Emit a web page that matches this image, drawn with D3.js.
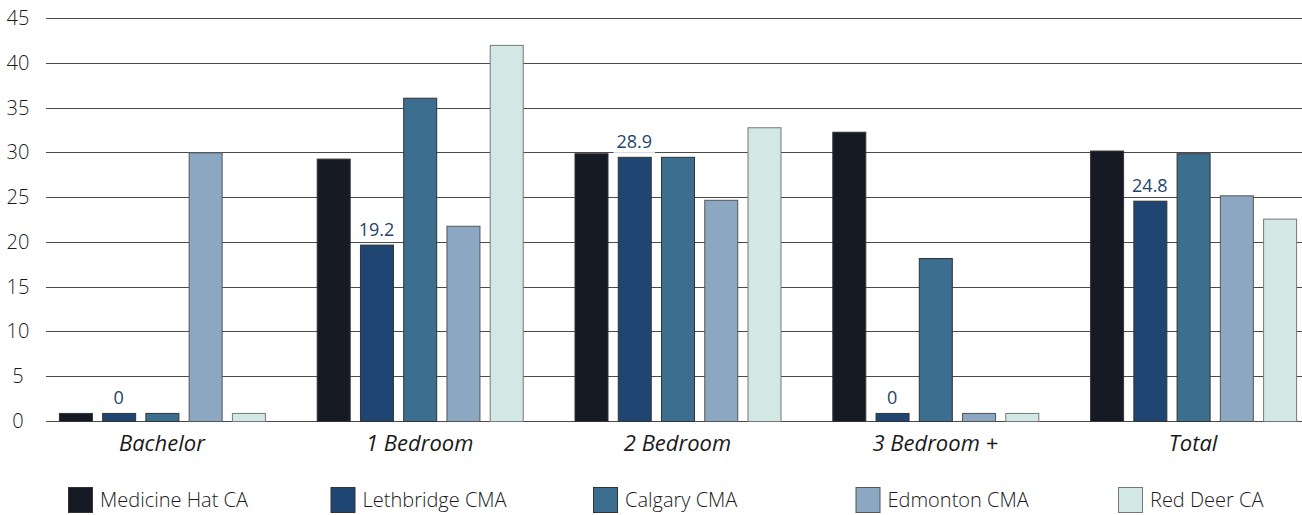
<!DOCTYPE html>
<html>
<head>
<meta charset="utf-8">
<script src="https://cdn.jsdelivr.net/npm/d3@7"></script>
<style>
  body { margin: 0; background: #fff; }
  svg { font-family: "Open Sans", Lato, sans-serif; }
</style>
</head>
<body>
<svg id="chart" width="1302" height="515"></svg>
<script>
var categories = ['Bachelor', '1 Bedroom', '2 Bedroom', '3 Bedroom +', 'Total'];
var seriesNames = ['Medicine Hat CA', 'Lethbridge CMA', 'Calgary CMA', 'Edmonton CMA', 'Red Deer CA'];
var colors = ['#161a24', '#1f4673', '#3b6e8f', '#8ba7c2', '#d1e8e4'];
var strokes = ['#333', '#333', '#333', '#555', '#777'];

// values per series, in category order
var medicineHat = [0.9, 29.3, 29.9, 32.3, 30.2];
var lethbridge  = [0.9, 19.7, 29.5, 0.9, 24.6];
var calgary     = [0.9, 36.1, 29.5, 18.2, 29.9];
var edmonton    = [30.0, 21.8, 24.7, 0.9, 25.2];
var redDeer     = [0.9, 42.0, 32.8, 0.9, 22.6];
var seriesValues = [medicineHat, lethbridge, calgary, edmonton, redDeer];

// labels shown above the Lethbridge bars
var lethbridgeLabels = ['0', '19.2', '28.9', '0', '24.8'];

var yTicks = [0, 5, 10, 15, 20, 25, 30, 35, 40, 45];

var svg = d3.select('#chart');

var y = d3.scaleLinear().domain([0, 45]).range([421, 18]);
var x0 = d3.scaleBand().domain(categories).range([33, 1322]).padding(0);
var groupW = 206;
var x1 = d3.scaleBand().domain(seriesNames).range([0, groupW]).paddingInner(0.237).paddingOuter(0);

// gridlines
svg.append('g')
  .selectAll('line')
  .data(yTicks)
  .enter().append('line')
  .attr('x1', 46).attr('x2', 1302)
  .attr('y1', function(d) { return Math.round(y(d)) + 0.5; })
  .attr('y2', function(d) { return Math.round(y(d)) + 0.5; })
  .attr('stroke', '#4a4a4a')
  .attr('stroke-width', 1.2);

// y labels
svg.append('g')
  .selectAll('text')
  .data(yTicks)
  .enter().append('text')
  .attr('x', 18)
  .attr('y', function(d) { return y(d) + 7; })
  .attr('text-anchor', 'middle')
  .attr('font-size', 20)
  .attr('font-weight', 300)
  .attr('fill', '#1a1a1a')
  .text(function(d) { return d; });

// bars
var groups = svg.append('g')
  .selectAll('g')
  .data(categories)
  .enter().append('g')
  .attr('transform', function(d) {
    return 'translate(' + (x0(d) + (x0.bandwidth() - groupW) / 2) + ',0)';
  });

groups.selectAll('rect')
  .data(function(c, ci) {
    return seriesNames.map(function(s, si) {
      return { series: s, si: si, value: seriesValues[si][ci] };
    });
  })
  .enter().append('rect')
  .attr('x', function(d) { return x1(d.series) + 0.5; })
  .attr('y', function(d) { return y(d.value) + 0.5; })
  .attr('width', x1.bandwidth())
  .attr('height', function(d) { return y(0) - y(d.value); })
  .attr('fill', function(d) { return colors[d.si]; })
  .attr('stroke', function(d) { return strokes[d.si]; })
  .attr('stroke-width', 1);

// value labels for Lethbridge
var labelG = groups.append('g')
  .attr('transform', function(c, ci) {
    var cx = x1('Lethbridge CMA') + x1.bandwidth() / 2;
    return 'translate(' + cx + ',' + (y(lethbridge[ci]) - 9) + ')';
  });

labelG.append('rect')
  .attr('fill', '#fff');

labelG.append('text')
  .attr('text-anchor', 'middle')
  .attr('font-size', 18)
  .attr('fill', '#23456c')
  .text(function(c, ci) { return lethbridgeLabels[ci]; });

labelG.each(function() {
  var g = d3.select(this);
  var bb = g.select('text').node().getBBox();
  g.select('rect')
    .attr('x', bb.x - 3).attr('y', bb.y + 3)
    .attr('width', bb.width + 6).attr('height', bb.height - 3);
});

// category labels
svg.append('g')
  .selectAll('text')
  .data(categories)
  .enter().append('text')
  .attr('x', function(d) { return x0(d) + x0.bandwidth() / 2; })
  .attr('y', 451)
  .attr('text-anchor', 'middle')
  .attr('font-size', 22)
  .attr('font-style', 'italic')
  .attr('font-weight', 500)
  .attr('fill', '#1a1a1a')
  .text(function(d) { return d; });

// legend
var legend = svg.append('g')
  .selectAll('g')
  .data(seriesNames)
  .enter().append('g')
  .attr('transform', function(d, i) { return 'translate(' + (68 + i * 262.5) + ',487)'; });

legend.append('rect')
  .attr('x', 0.5).attr('y', 0.5)
  .attr('width', 24).attr('height', 25)
  .attr('fill', function(d, i) { return colors[i]; })
  .attr('stroke', function(d, i) { return strokes[i]; });

legend.append('text')
  .attr('x', 32)
  .attr('y', 20)
  .attr('font-size', 20)
  .attr('font-weight', 300)
  .attr('fill', '#1a1a1a')
  .text(function(d) { return d; });
</script>
</body>
</html>
